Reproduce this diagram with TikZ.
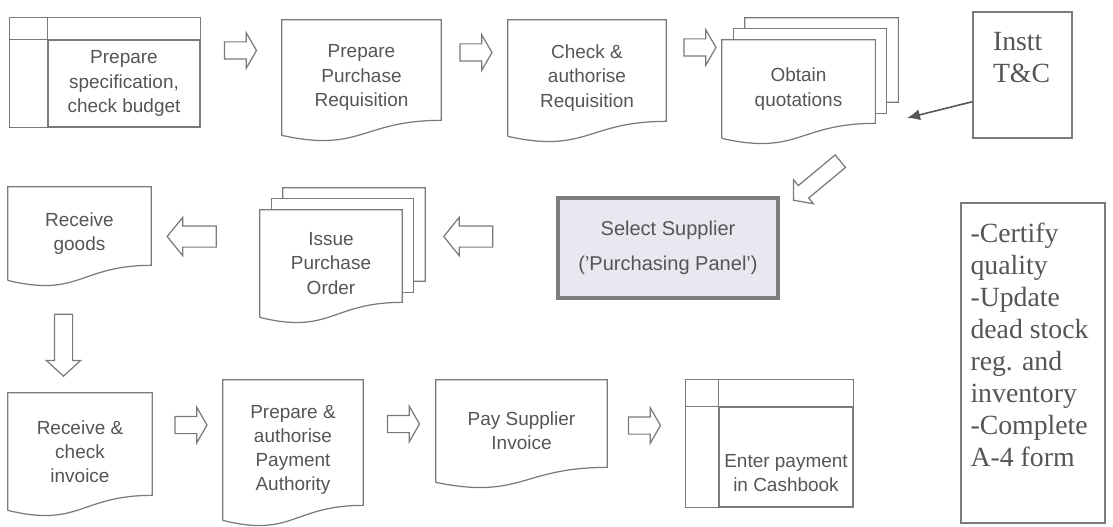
\documentclass[tikz,border=0pt]{standalone}
\usepackage{fontspec}
\setmainfont{Liberation Sans}
\newfontfamily\notefont{Liberation Serif}
\usetikzlibrary{arrows.meta,calc,shapes.arrows}
\definecolor{linegray}{HTML}{7A7A7A}
\definecolor{textgray}{HTML}{555555}
\definecolor{panelfill}{HTML}{E9E7F0}
\definecolor{panelline}{HTML}{7E7E7E}
\tikzset{
  docbox/.style={draw=none, align=center, inner sep=0pt, text=textgray,
    font=\fontsize{10.8}{13.8}\selectfont},
  storebox/.style={docbox, draw=linegray, line width=0.7pt},
  panelbox/.style={docbox, draw=panelline, line width=2pt, fill=panelfill,
    font=\fontsize{11.4}{13.8}\selectfont},
  notebox/.style={draw=linegray, line width=0.7pt, inner sep=0pt, text=textgray,
    font=\notefont\fontsize{15.8}{18.2}\selectfont},
  docline/.style={draw=linegray, line width=0.7pt},
  blockarrow/.style={single arrow, draw=linegray, line width=0.7pt, fill=white,
    inner xsep=0pt},
  rarr/.style={blockarrow, inner ysep=0.16cm, single arrow head extend=0.18cm,
    single arrow tip angle=120, minimum height=0.64cm},
  larr/.style={blockarrow, inner ysep=0.2cm, single arrow head extend=0.17cm,
    single arrow tip angle=102, minimum height=0.98cm, rotate=180},
  darr/.style={blockarrow, inner ysep=0.17cm, single arrow head extend=0.16cm,
    single arrow tip angle=95, minimum height=1.24cm, rotate=-90},
  diagarr/.style={blockarrow, inner ysep=0.15cm, single arrow head extend=0.15cm,
    single arrow tip angle=100, minimum height=1.22cm, rotate=219.7},
  thinarr/.style={-{Latex[length=2.6mm,width=2.2mm]}, line width=0.9pt, draw=textgray}
}

\begin{document}
\begin{tikzpicture}
  \useasboundingbox (0,0) rectangle (22.26,-10.54);

  % top row
  \node[storebox, minimum width=3.04cm, minimum height=1.74cm] (spec) at (2.48,-1.67)
    {Prepare\\specification,\\check budget};
  \node[docbox, minimum width=3.18cm, minimum height=2.30cm] (preq) at (7.23,-1.55)
    {Prepare\\Purchase\\Requisition};
  \node[docbox, minimum width=3.16cm, minimum height=2.32cm] (chk) at (11.74,-1.56)
    {Check \&\\authorise\\Requisition};
  \node[docbox, minimum width=3.06cm, minimum height=1.96cm] (quot) at (15.97,-1.78)
    {Obtain\\quotations};
  \node[notebox, minimum width=1.98cm, minimum height=2.52cm] (tnc) at (20.45,-1.50)
    {\parbox[c][1.72cm][t]{1.18cm}{\raggedright Instt\\T\&C}};

  % middle row
  \node[panelbox, minimum width=4.40cm, minimum height=2.0cm] (supp) at (13.36,-4.96)
    {Select Supplier\\[6pt]('Purchasing Panel')};
  \node[docbox, minimum width=2.84cm, minimum height=2.14cm] (issue) at (6.62,-5.27)
    {Issue\\Purchase\\Order};
  \node[docbox, minimum width=2.86cm, minimum height=1.86cm] (recg) at (1.59,-4.67)
    {Receive\\goods};

  % bottom row
  \node[docbox, minimum width=2.88cm, minimum height=2.34cm] (recinv) at (1.60,-9.03)
    {Receive \&\\check\\invoice};
  \node[docbox, minimum width=2.80cm, minimum height=2.80cm] (prepay) at (5.86,-9.00)
    {Prepare \&\\authorise\\Payment\\Authority};
  \node[docbox, minimum width=3.42cm, minimum height=2.04cm] (paysup) at (10.43,-8.62)
    {Pay Supplier\\Invoice};
  \node[storebox, minimum width=2.68cm, minimum height=2.0cm] (cash) at (15.72,-9.14)
    {\parbox[c][1.4cm][b]{2.66cm}{\centering Enter payment\\in Cashbook}};

  \node[notebox, minimum width=2.88cm, minimum height=6.40cm] (notes) at (20.66,-7.26)
    {\parbox[c][5.6cm][t]{2.5cm}{\raggedright -Certify\\quality\\-Update\\dead stock\\reg. and\\inventory\\-Complete\\A-4 form}};

  % outlines
  \foreach \d in {preq,chk,quot,issue,recg,recinv,prepay,paysup}
    \draw[docline] (\d.south west) -- (\d.north west) -- (\d.north east)
      -- ($(\d.south east)+(0,0.3)$)
      .. controls ($(\d.south)+(0,0.3)$) and ($(\d.south)+(0,-0.35)$) .. (\d.south west);
  \foreach \d in {quot,issue} {
    \draw[docline] ($(\d.north west)+(0.23,0)$) -- ++(0,0.22)
      -- ($(\d.north east)+(0.23,0.22)$) -- ($(\d.south east)+(0.23,0.5)$)
      -- ($(\d.south east)+(0,0.5)$);
    \draw[docline] ($(\d.north west)+(0.46,0.22)$) -- ++(0,0.22)
      -- ($(\d.north east)+(0.46,0.44)$) -- ($(\d.south east)+(0.46,0.72)$)
      -- ($(\d.south east)+(0.23,0.72)$);
  }
  \draw[docline] ($(spec.south west)+(-0.76,0)$) rectangle ($(spec.north east)+(0,0.44)$);
  \draw[docline] (spec.north west) -- ++(-0.76,0) (spec.north west) -- ++(0,0.44);
  \draw[docline] ($(cash.south west)+(-0.66,0)$) rectangle ($(cash.north east)+(0,0.54)$);
  \draw[docline] (cash.north west) -- ++(-0.66,0) (cash.north west) -- ++(0,0.54);

  % block arrows
  \node[rarr] (a1) at (4.76,-1.01) {};
  \node[rarr] (a2) at (9.47,-1.05) {};
  \node[rarr] (a3) at (13.95,-0.95) {};
  \node[diagarr] (a4) at (16.39,-3.57) {};
  \node[larr] (a5) at (9.45,-4.73) {};
  \node[larr] (a6) at (3.92,-4.73) {};
  \node[darr] (a7) at (1.27,-6.82) {};
  \node[rarr] (a8) at (3.77,-8.50) {};
  \node[rarr] (a9) at (8.02,-8.48) {};
  \node[rarr] (a10) at (12.84,-8.51) {};

  \coordinate (qpt) at (18.14,-2.36);
  \draw[thinarr] ($(tnc.south west)!0.29!(tnc.north west)$) -- (qpt);
\end{tikzpicture}
\end{document}
